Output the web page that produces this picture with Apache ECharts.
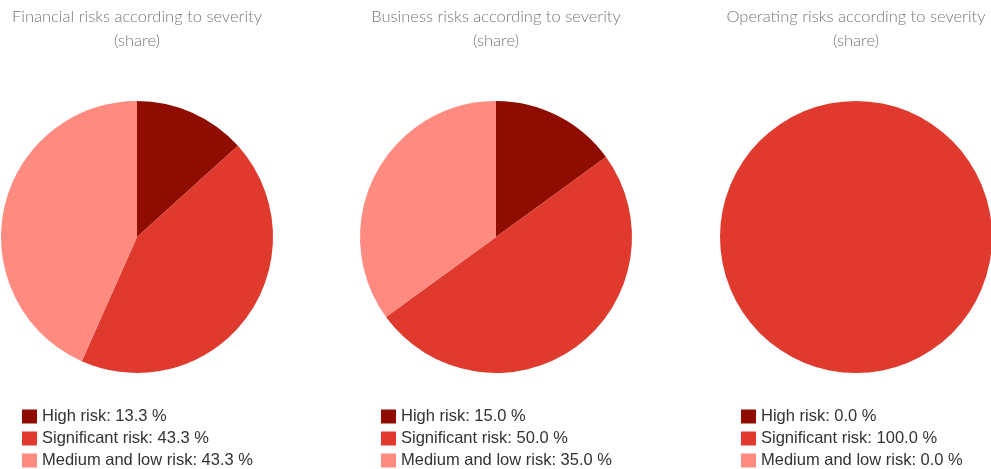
<!DOCTYPE html>
<html>
<head>
<meta charset="utf-8">
<script src="https://cdn.jsdelivr.net/npm/echarts@6/dist/echarts.min.js"></script>
<style>
  html, body { margin: 0; padding: 0; background: #fff; }
  #chart { width: 991px; height: 469px; }
</style>
</head>
<body>
<div id="chart"></div>
<script>
// Risk categories and their shares (%) per risk type
const categories = ['High risk', 'Significant risk', 'Medium and low risk'];
const financialShares = [13.3, 43.3, 43.3];
const businessShares = [15.0, 50.0, 35.0];
const operatingShares = [0.0, 100.0, 0.0];
const chartTitles = [
  'Financial risks according to severity\n(share)',
  'Business risks according to severity\n(share)',
  'Operating risks according to severity\n(share)'
];
const colors = ['#8f0c00', '#e03a2e', '#ff8a7f'];

const groups = [financialShares, businessShares, operatingShares];
const centersX = [137, 496, 856];
const legendLeft = [22, 381, 741];

const option = {
  animation: false,
  color: colors,
  title: groups.map((g, i) => ({
    text: chartTitles[i],
    left: centersX[i],
    top: 5,
    padding: 0,
    textAlign: 'center',
    textStyle: {
      fontFamily: 'Lato',
      fontWeight: 300,
      fontSize: 16.5,
      lineHeight: 24,
      color: '#777'
    }
  })),
  legend: groups.map((g, i) => ({
    orient: 'vertical',
    left: legendLeft[i],
    top: 408,
    height: 120,
    padding: 0,
    itemWidth: 15,
    itemHeight: 14,
    itemGap: 5,
    selectedMode: false,
    icon: 'rect',
    data: categories,
    formatter: name => name + ': ' + g[categories.indexOf(name)].toFixed(1) + ' %',
    textStyle: {
      fontFamily: 'Liberation Sans',
      fontSize: 16.5,
      color: '#333'
    }
  })),
  series: groups.map((g, i) => ({
    type: 'pie',
    center: [centersX[i], 237],
    radius: [0, 136],
    startAngle: 90,
    clockwise: true,
    silent: true,
    label: { show: false },
    labelLine: { show: false },
    itemStyle: { borderWidth: 0 },
    data: categories.map((c, k) => ({ name: c, value: g[k] }))
  }))
};

const chart = echarts.init(document.getElementById('chart'), null, { renderer: 'canvas' });
chart.setOption(option);
</script>
</body>
</html>
